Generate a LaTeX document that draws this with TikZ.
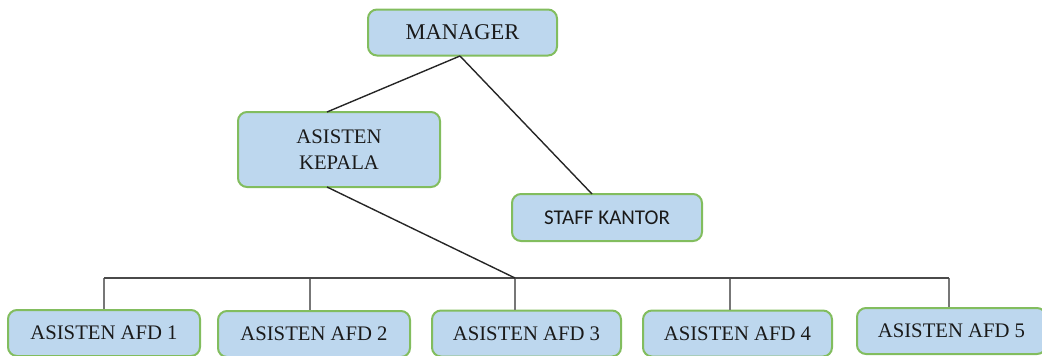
\documentclass[tikz,border=0pt]{standalone}
\usepackage{fontspec}
\setmainfont{Liberation Serif}
\newfontfamily\calib{Carlito}
\definecolor{boxfill}{HTML}{BDD7EE}
\definecolor{boxline}{HTML}{82BD5E}
\definecolor{txt}{HTML}{1A1A1A}
\definecolor{dropc}{HTML}{777777}
\definecolor{busc}{HTML}{4A4A4A}
\begin{document}
\begin{tikzpicture}[x=1pt,y=-1pt,
  orgbox/.style={draw=boxline, line width=2pt, fill=boxfill, rounded corners=9pt,
    text=txt, inner sep=0pt, align=center},
  afdbox/.style={orgbox, minimum width=189pt, minimum height=46pt,
    font=\fontsize{20.7}{26}\selectfont},
  link/.style={draw=black!85, line width=1.4pt},
  bus/.style={draw=busc, line width=1.6pt},
  drop/.style={draw=dropc, line width=1.8pt}]
\useasboundingbox (0,0) rectangle (1042,356);
\node[orgbox, minimum width=189pt, minimum height=46pt, font=\fontsize{22.5}{27}\selectfont] (mgr) at (462.5,32.5) {MANAGER};
\node[orgbox, minimum width=202pt, minimum height=75pt, font=\fontsize{20.7}{26}\selectfont] (kep) at (339,149.5) {ASISTEN\\KEPALA};
\node[orgbox, minimum width=190pt, minimum height=47pt, font=\calib\fontsize{21}{26}\selectfont] (staff) at (607,217.5) {STAFF KANTOR};
\node[afdbox, minimum width=192pt] (a1) at (104,333) {ASISTEN AFD 1};
\node[afdbox, minimum width=192pt] (a2) at (314,334) {ASISTEN AFD 2};
\node[afdbox] (a3) at (526.5,333.5) {ASISTEN AFD 3};
\node[afdbox] (a4) at (737.5,333.5) {ASISTEN AFD 4};
\node[afdbox] (a5) at (951.5,331) {ASISTEN AFD 5};
\coordinate (mb) at (460,56);
\coordinate (kt) at (327,112);
\coordinate (kb) at (327,187);
\coordinate (st) at (592,194);
\coordinate (bj) at (515,278);
\coordinate (b1) at (104,278);
\coordinate (b2) at (310,278);
\coordinate (b3) at (515,278);
\coordinate (b4) at (730,278);
\coordinate (b5) at (949,278);
\draw[drop] (b1) -- (b1 |- a1.north);
\draw[drop] (b2) -- (b2 |- a2.north);
\draw[drop] (b3) -- (b3 |- a3.north);
\draw[drop] (b4) -- (b4 |- a4.north);
\draw[drop] (b5) -- (b5 |- a5.north);
\draw[bus] (b1) -- (b5);
\draw[link] (mb) -- (kt);
\draw[link] (mb) -- (st);
\draw[link] (kb) -- (bj);
\end{tikzpicture}
\end{document}
